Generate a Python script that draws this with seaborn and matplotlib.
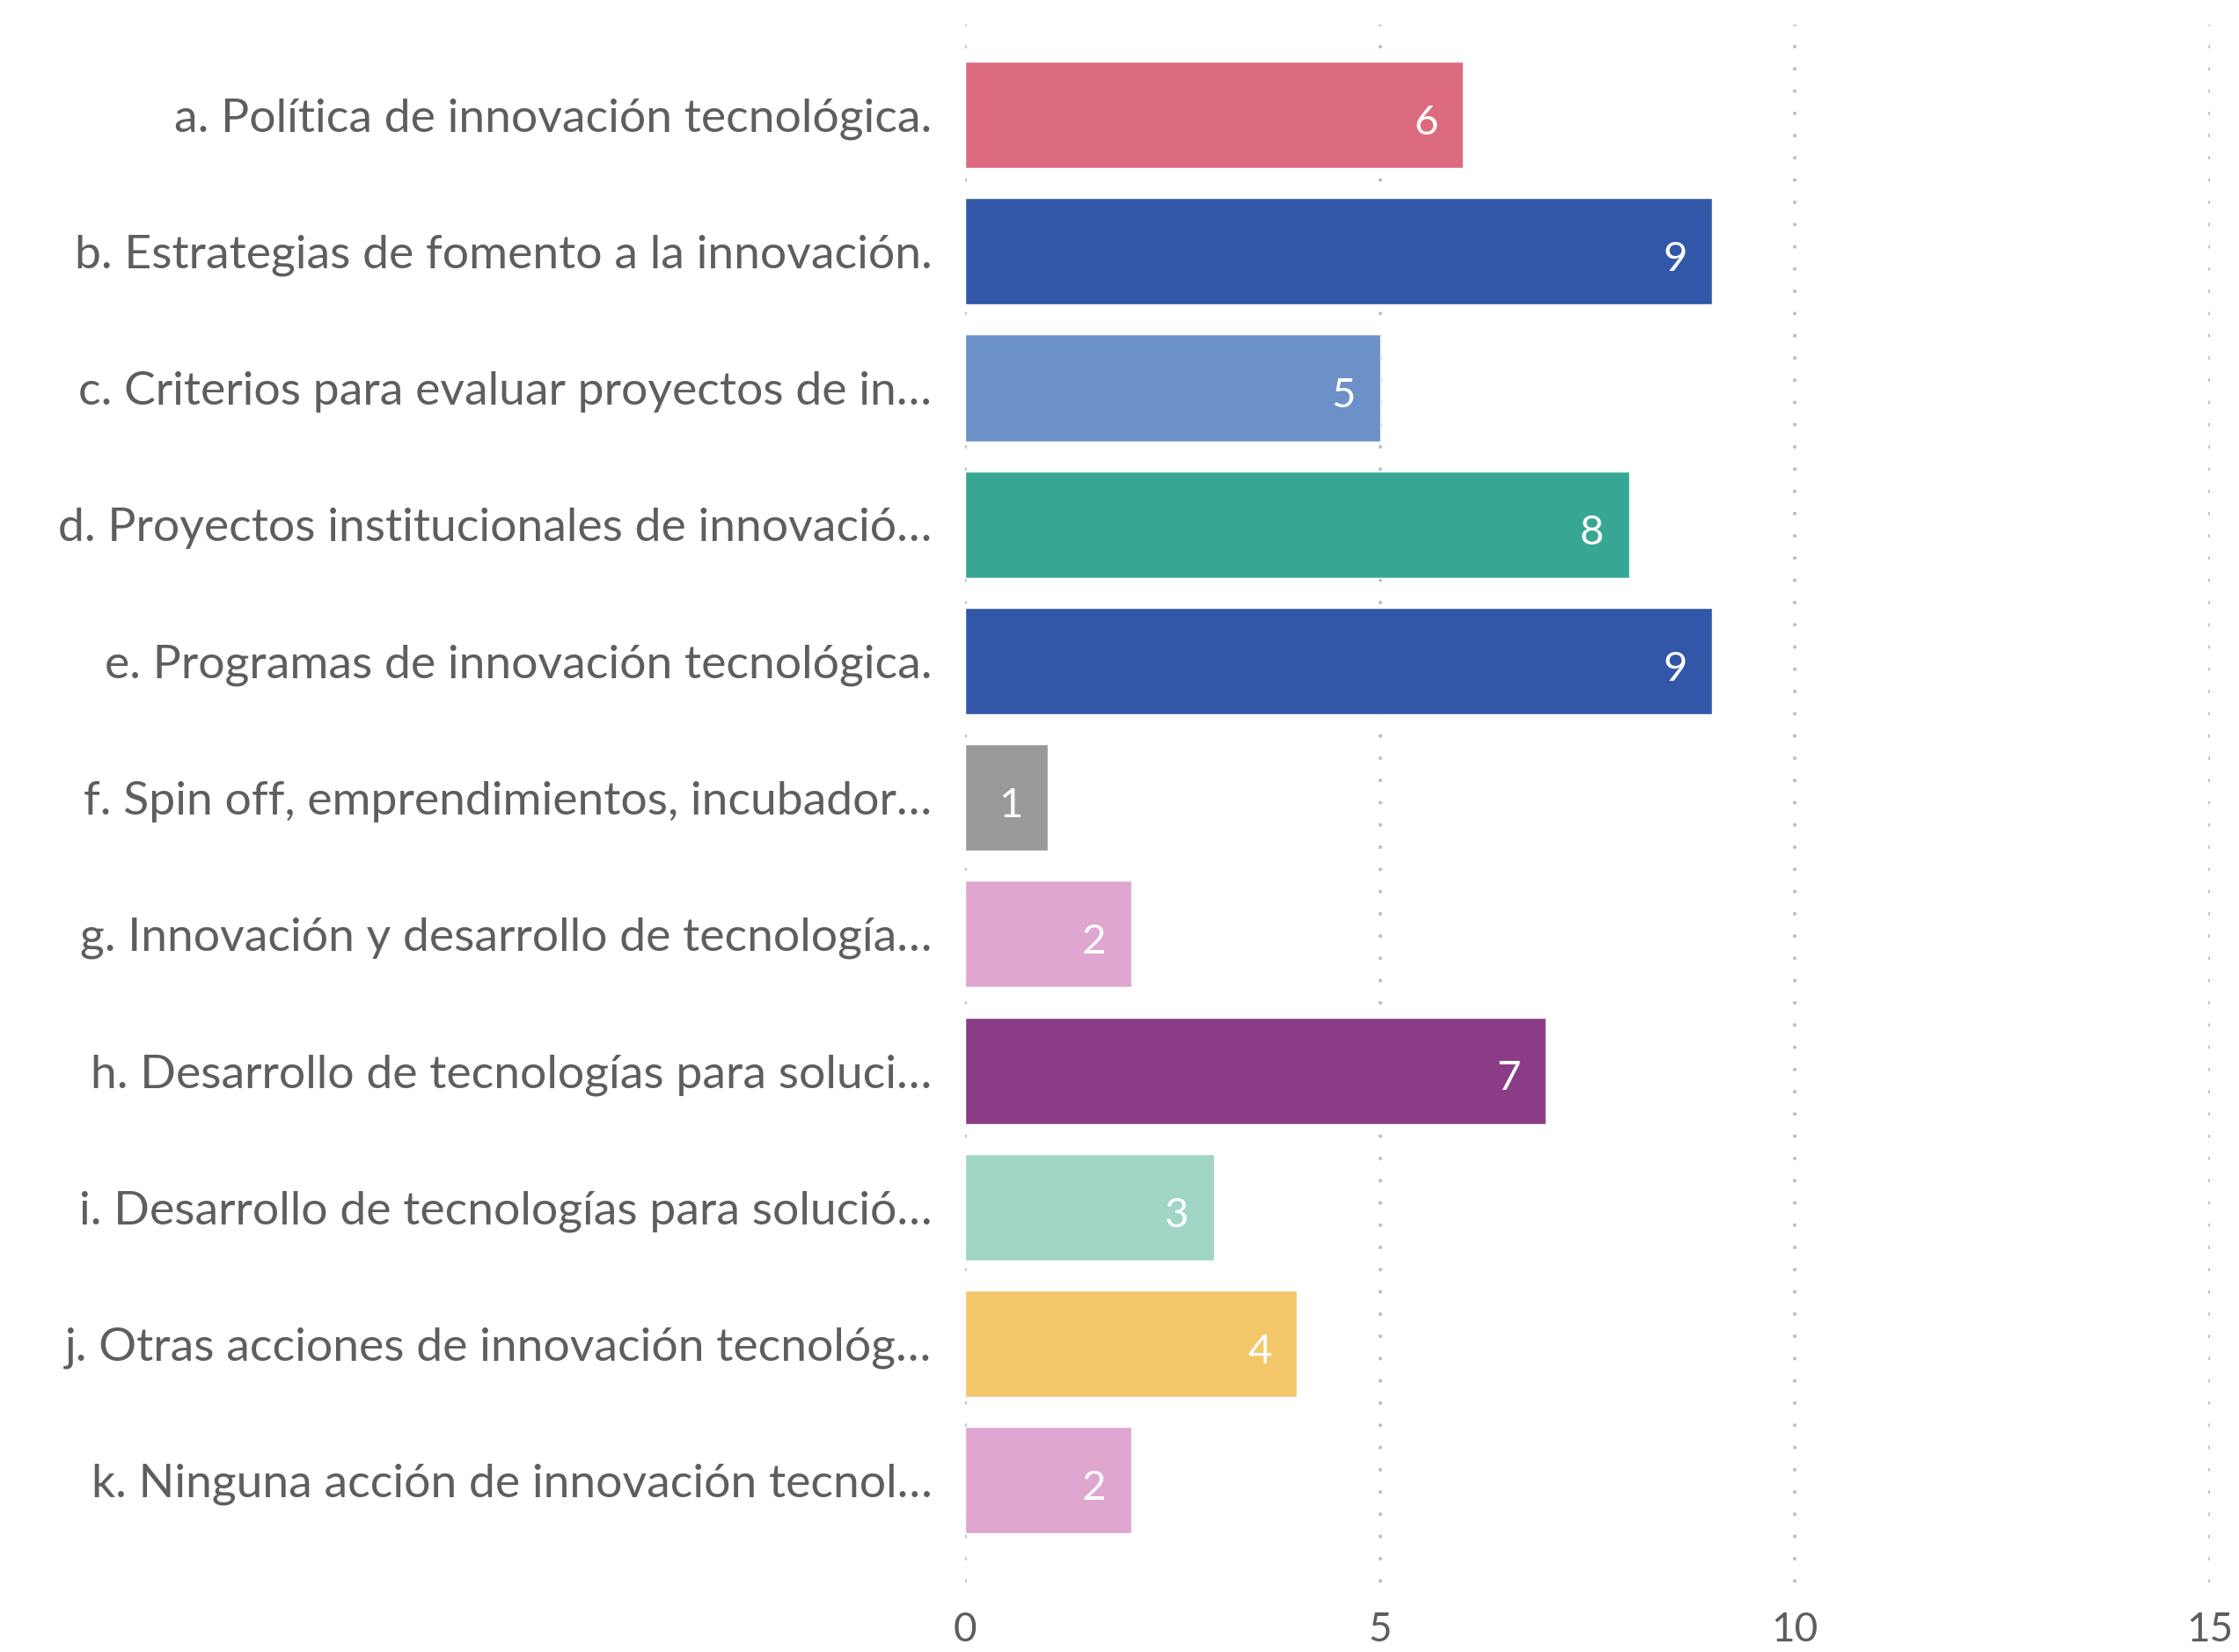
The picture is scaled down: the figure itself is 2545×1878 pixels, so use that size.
import pandas as pd
import matplotlib.pyplot as plt
import seaborn as sns

categorias = [
    'a. Política de innovación tecnológica.',
    'b. Estrategias de fomento a la innovación.',
    'c. Criterios para evaluar proyectos de in…',
    'd. Proyectos institucionales de innovació…',
    'e. Programas de innovación tecnológica.',
    'f. Spin off, emprendimientos, incubador…',
    'g. Innovación y desarrollo de tecnología…',
    'h. Desarrollo de tecnologías para soluci…',
    'i. Desarrollo de tecnologías para solució…',
    'j. Otras acciones de innovación tecnológ…',
    'k. Ninguna acción de innovación tecnol…',
]
valores = [6, 9, 5, 8, 9, 1, 2, 7, 3, 4, 2]
colores = ['#DD6B7F', '#3257A8', '#6B91C8', '#37A794', '#3257A8', '#999999',
           '#DFA6D0', '#8A3C86', '#A1D5C5', '#F4C76A', '#DFA6D0']
ticks_x = [0, 5, 10, 15]

df = pd.DataFrame({'categoria': categorias, 'valor': valores})

sns.set_style('white')
plt.rcParams['font.family'] = ['Lato', 'DejaVu Sans']
gris = '#605E5C'

fig = plt.figure(figsize=(25.45, 18.78), dpi=100)
ax = fig.add_axes([0.431, 0.042, 0.556, 0.943])

sns.barplot(data=df, x='valor', y='categoria', hue='categoria', palette=colores,
            orient='h', width=0.78, legend=False, saturation=1, ax=ax)

ax.set_xlim(0, 15)
ax.set_ylim(10.75, -0.66)
ax.set_xticks(ticks_x)
ax.set_xlabel('')
ax.set_ylabel('')
ax.grid(False)
for t in ticks_x:
    ax.axvline(t, color='#BDBDBD', lw=2.6, ls=(0, (1, 6)), zorder=0)
for s in ax.spines.values():
    s.set_visible(False)

ax.tick_params(axis='y', length=0, pad=27, labelsize=38.5, labelcolor=gris)
ax.tick_params(axis='x', length=0, pad=24, labelsize=33, labelcolor=gris)

for i, v in enumerate(valores):
    ax.text(v - 0.3, i + 0.06, str(v), color='white', fontsize=34,
            ha='right', va='center')

plt.savefig('out.png', dpi=100)
